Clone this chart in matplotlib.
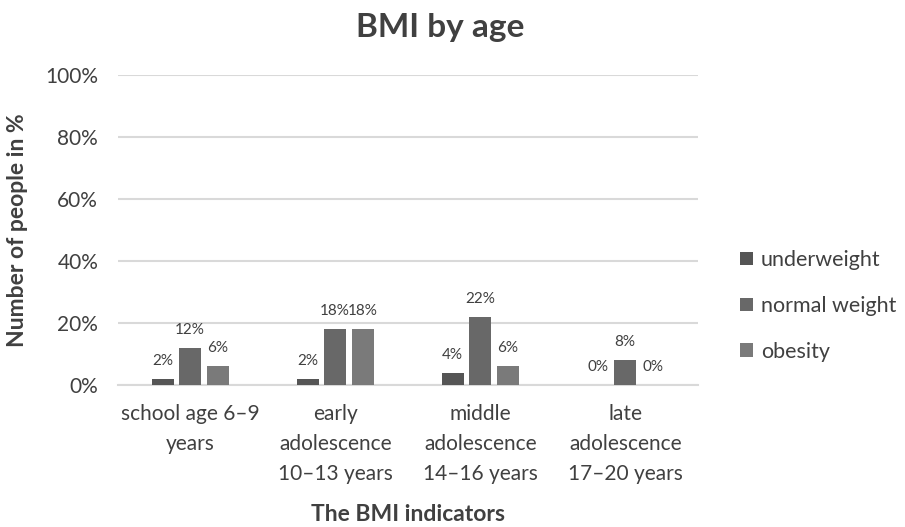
import matplotlib
matplotlib.use("Agg")
import matplotlib.pyplot as plt
import numpy as np

plt.rcParams['font.family'] = ['Lato', 'DejaVu Sans']

categories = ["school age 6–9\nyears", "early\nadolescence\n10–13 years",
              "middle\nadolescence\n14–16 years", "late\nadolescence\n17–20 years"]
series_names = ["underweight", "normal weight", "obesity"]
underweight = [2, 2, 4, 0]
normal_weight = [12, 18, 22, 8]
obesity = [6, 18, 6, 0]
yticks = [0, 20, 40, 60, 80, 100]
ytick_labels = ["0%", "20%", "40%", "60%", "80%", "100%"]

colors = ["#555555", "#686868", "#7a7a7a"]
txt = "#404040"

fig = plt.figure(figsize=(9.05, 5.27), dpi=100)
ax = fig.add_axes([0.130, 0.2694, 0.641, 0.5883])

x = np.arange(len(categories))
offsets = [-0.19, 0.0, 0.19]
for vals, name, c, off in zip([underweight, normal_weight, obesity], series_names, colors, offsets):
    ax.bar(x + off, vals, width=0.152, color=c, label=name, zorder=3)
    for xi, v in zip(x + off, vals):
        ax.annotate(f"{v}%", (xi, v), xytext=(0, 8), textcoords="offset points",
                    ha="center", va="bottom", fontsize=11, color=txt,
                    fontstretch="condensed")

ax.set_xlim(-0.5, len(categories) - 0.5)
ax.set_ylim(0, 100)
ax.set_yticks(yticks)
ax.set_yticklabels(ytick_labels, fontsize=15, color=txt)
ax.set_xticks(x)
ax.set_xticklabels(categories, fontsize=15, color=txt, linespacing=1.6, va="top")
ax.tick_params(axis="both", length=0)
ax.tick_params(axis="x", pad=14)
ax.tick_params(axis="y", pad=14)
ax.grid(axis="y", color="#d9d9d9", linewidth=1.5, zorder=0)
for s in ["top", "right", "left"]:
    ax.spines[s].set_visible(False)
ax.spines["bottom"].set_color("#d9d9d9")
ax.spines["bottom"].set_linewidth(1.5)

ax.set_ylabel("Number of people in %", fontsize=16.5, fontweight="bold", color=txt)
ax.yaxis.set_label_coords(-0.155, 0.5)
fig.text(0.451, 0.003, "The BMI indicators", ha="center", va="bottom", fontsize=16.5,
         fontweight="bold", color=txt)
fig.text(0.486, 0.947, "BMI by age", ha="center", va="center", fontsize=24,
         fontweight="bold", color=txt)

leg = ax.legend(loc="center left", bbox_to_anchor=(1.04, 0.255), frameon=False,
                fontsize=15.5, labelcolor=txt, handlelength=0.6, handleheight=0.6,
                handletextpad=0.35, labelspacing=1.2)

fig.savefig("out.png", dpi=100)
